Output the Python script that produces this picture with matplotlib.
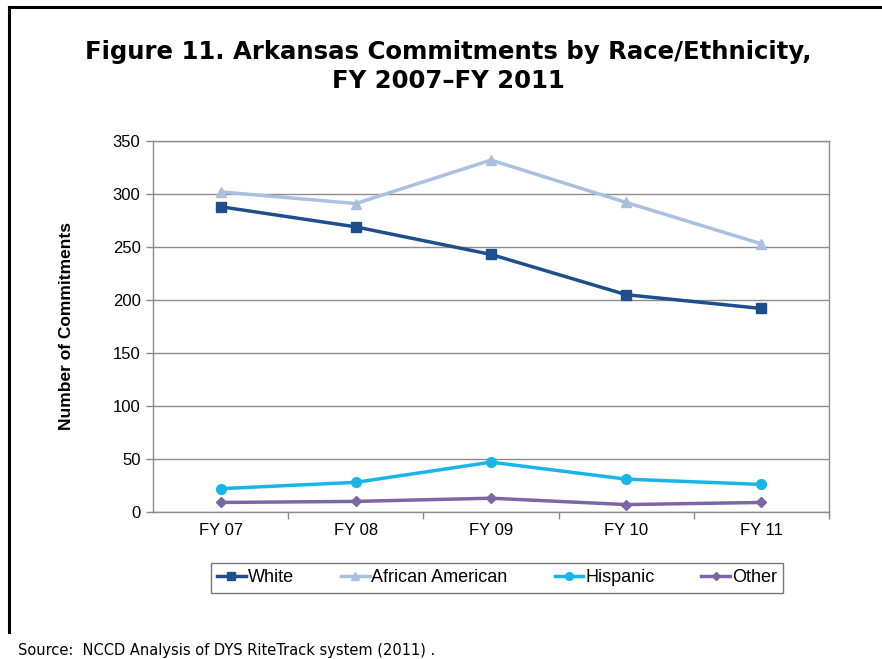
import matplotlib
matplotlib.use("Agg")
import matplotlib.pyplot as plt
from matplotlib.lines import Line2D

categories = ["FY 07", "FY 08", "FY 09", "FY 10", "FY 11"]
white = [288, 269, 243, 205, 192]
african_american = [302, 291, 332, 292, 253]
hispanic = [22, 28, 47, 31, 26]
other = [9, 10, 13, 7, 9]
series_names = ["White", "African American", "Hispanic", "Other"]
yticks = [0, 50, 100, 150, 200, 250, 300, 350]

W, H = 882, 659
fig = plt.figure(figsize=(W / 100, H / 100), dpi=100)
fig.patch.set_facecolor("white")

# outer frame lines (top and left)
fig.add_artist(Line2D([9 / W, 1.0], [1 - 7 / H, 1 - 7 / H], color="black", lw=2.2))
fig.add_artist(Line2D([9 / W, 9 / W], [1 - 7 / H, 1 - 632 / H], color="black", lw=2.2))

fig.text(448 / W, 1 - 52 / H, "Figure 11. Arkansas Commitments by Race/Ethnicity,",
         ha="center", va="center", fontsize=17.6, fontweight="bold", family="DejaVu Sans")
fig.text(448 / W, 1 - 81 / H, "FY 2007\u2013FY 2011",
         ha="center", va="center", fontsize=17.6, fontweight="bold", family="DejaVu Sans")

fig.text(18 / W, 1 - 650 / H, "Source:  NCCD Analysis of DYS RiteTrack system (2011) .",
         ha="left", va="center", fontsize=10.5, family="DejaVu Sans")

left, right, top, bottom = 153, 829, 141, 512
ax = fig.add_axes([left / W, 1 - bottom / H, (right - left) / W, (bottom - top) / H])

x = list(range(len(categories)))
colors = ["#1F4E8C", "#A9C0DE", "#18B4EA", "#7D66A6"]
markers = ["s", "^", "o", "D"]
msizes = [7, 7, 7, 5.5]
data = [white, african_american, hispanic, other]
for vals, c, m, ms, name in zip(data, colors, markers, msizes, series_names):
    ax.plot(x, vals, color=c, lw=2.5, marker=m, markersize=ms, label=name, zorder=3)

ax.set_xlim(-0.5, len(categories) - 0.5)
ax.set_ylim(0, 350)
ax.set_yticks(yticks)
ax.set_yticklabels([str(v) for v in yticks], family="Liberation Sans", fontsize=12)
ax.set_xticks(x)
ax.set_xticklabels(categories, family="Liberation Sans", fontsize=12)
ax.tick_params(axis="x", which="major", length=0, pad=8)
ax.set_xticks([i + 0.5 for i in range(len(categories))], minor=True)
ax.tick_params(axis="x", which="minor", length=5, color="#888888", width=1)
ax.tick_params(axis="y", length=5, color="#888888", width=1, pad=4)
ax.yaxis.grid(True, color="#8C8C8C", lw=1)
ax.set_axisbelow(True)
for s in ["top", "right", "left", "bottom"]:
    ax.spines[s].set_color("#8C8C8C")
    ax.spines[s].set_linewidth(1)

ax.set_ylabel("Number of Commitments", family="Liberation Sans", fontsize=12.5,
              fontweight="bold", labelpad=28)

leg = fig.legend(loc="center", bbox_to_anchor=(497 / W, 1 - 578 / H), ncol=4,
                 frameon=True, fancybox=False, edgecolor="#555555",
                 prop={"family": "Liberation Sans", "size": 13},
                 handlelength=1.6, handletextpad=0.1, columnspacing=2.6,
                 borderpad=0.35, markerscale=0.8)
leg.get_frame().set_linewidth(1)

fig.savefig("out.png", dpi=100, facecolor="white")
